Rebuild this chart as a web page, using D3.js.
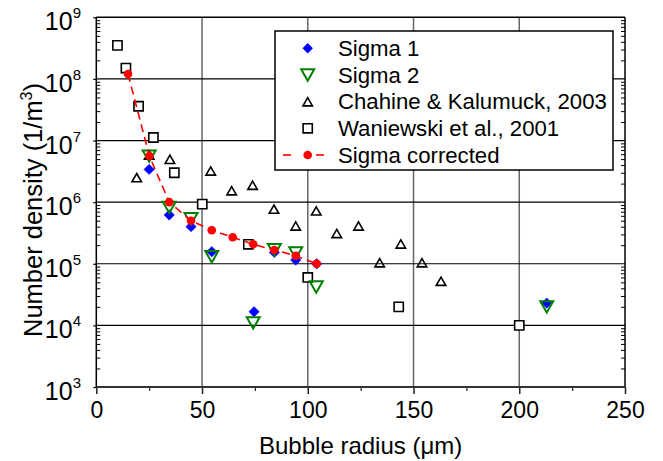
<!DOCTYPE html>
<head>
    <meta charset="utf-8">
    <script src="https://cdn.jsdelivr.net/npm/d3@7"></script>
    <style type="text/css">
        body { margin: 0; background: #fff; }
        svg { display: block; font-family: "Liberation Sans", Arial, sans-serif; }
        .domain { display: none; }
    </style>
</head>
<body>
    <div id="chart"></div>
</body>
</html>

<script type="text/javascript">
	// values
	var sigma1X = [25, 34.5, 44.8, 54.6, 74.6, 84.2, 94.3, 104.2, 213];
	var sigma1Y = [3.4e6, 6.2e5, 4.0e5, 1.57e5, 1.66e4, 1.53e5, 1.15e5, 1.0e5, 2.3e4];

	var sigma2X = [25, 34.5, 44.8, 54.6, 74.2, 84.2, 94.3, 104, 213];
	var sigma2Y = [5.6e6, 8.2e5, 5.4e5, 1.3e5, 1.1e4, 1.7e5, 1.5e5, 4.2e4, 2.0e4];

	var chahineX = [19.1, 25, 34.8, 54.1, 64, 73.9, 84, 94.3, 104, 113.7, 124, 134, 144, 154, 163];
	var chahineY = [2.5e6, 5.8e6, 4.95e6, 3.2e6, 1.53e6, 1.88e6, 7.7e5, 4.1e5, 7.2e5, 3.1e5, 4.1e5, 1.04e5, 2.09e5, 1.04e5, 5.2e4];

	var waniX = [10, 14, 20, 27, 36.9, 50.1, 71.9, 100, 143, 200];
	var waniY = [3.5e8, 1.5e8, 3.6e7, 1.12e7, 3.0e6, 9.3e5, 2.07e5, 6.0e4, 2.0e4, 1.0e4];

	var corrX = [15, 25.1, 34.5, 44.8, 54.6, 64.5, 74.2, 84.2, 94.3, 104.2];
	var corrY = [1.2e8, 5.6e6, 1.0e6, 5.0e5, 3.5e5, 2.7e5, 2.07e5, 1.67e5, 1.35e5, 1.0e5];

	var xTicks = [0, 50, 100, 150, 200, 250];
	var xMinor = [25, 75, 125, 175, 225];
	var yExp = [3, 4, 5, 6, 7, 8, 9];

	var legendNames = ["Sigma 1", "Sigma 2", "Chahine & Kalumuck, 2003", "Waniewski et al., 2001", "Sigma corrected"];

	var width = 663, height = 461;
	var pLeft = 96.3, pRight = 625, pTop = 17.3, pBottom = 387;

	var x = d3.scaleLinear().domain([0, 250]).range([pLeft, pRight]);
	var y = d3.scaleLog().domain([1e3, 1e9]).range([pBottom, pTop]);

	var svg = d3.select("#chart").append("svg")
		.attr("width", width)
		.attr("height", height);

	// minor log ticks
	var yMinor = [];
	yExp.slice(0, -1).forEach(function(e) {
		for (var k = 2; k <= 9; k++) yMinor.push(k * Math.pow(10, e));
	});

	// gridlines
	svg.append("g").selectAll("line")
		.data(xTicks.slice(1, -1))
		.enter().append("line")
		.attr("x1", function(d) { return x(d); })
		.attr("x2", function(d) { return x(d); })
		.attr("y1", pTop).attr("y2", pBottom)
		.attr("stroke", "#666").attr("stroke-width", 1.5);

	svg.append("g").selectAll("line")
		.data(yExp.slice(1, -1))
		.enter().append("line")
		.attr("x1", pLeft).attr("x2", pRight)
		.attr("y1", function(d) { return y(Math.pow(10, d)); })
		.attr("y2", function(d) { return y(Math.pow(10, d)); })
		.attr("stroke", "#000").attr("stroke-width", 1.2);

	// x axis
	var xAxis = svg.append("g")
		.attr("transform", "translate(0," + pBottom + ")")
		.call(d3.axisBottom(x).tickValues(xTicks).tickSize(7).tickPadding(8));
	xAxis.selectAll("text").attr("font-size", 23).attr("fill", "#000").attr("font-family", "Liberation Sans, Arial, sans-serif");
	xAxis.selectAll("line").attr("stroke", "#222").attr("stroke-width", 1.5);

	svg.append("g")
		.attr("transform", "translate(0," + pBottom + ")")
		.call(d3.axisBottom(x).tickValues(xMinor).tickSize(4).tickFormat(""))
		.selectAll("line").attr("stroke", "#222").attr("stroke-width", 1.2);

	// y axis: left, major ticks outward, minor ticks inward
	svg.append("g")
		.attr("transform", "translate(" + pLeft + ",0)")
		.call(d3.axisLeft(y).tickValues(yExp.map(function(e) { return Math.pow(10, e); })).tickSize(3).tickFormat(""))
		.selectAll("line").attr("stroke", "#000").attr("stroke-width", 1.2);

	svg.append("g")
		.attr("transform", "translate(" + pLeft + ",0)")
		.call(d3.axisRight(y).tickValues(yMinor).tickSize(4).tickFormat(""))
		.selectAll("line").attr("stroke", "#000").attr("stroke-width", 1);

	svg.append("g")
		.attr("transform", "translate(" + pRight + ",0)")
		.call(d3.axisLeft(y).tickValues(yMinor).tickSize(4).tickFormat(""))
		.selectAll("line").attr("stroke", "#000").attr("stroke-width", 1);

	var yLab = svg.append("g").selectAll("text")
		.data(yExp)
		.enter().append("text")
		.attr("x", 81)
		.attr("y", function(d) { return y(Math.pow(10, d)) + 13; })
		.attr("text-anchor", "end")
		.attr("font-size", 25)
		.text("10");
	yLab.append("tspan")
		.attr("dy", -12)
		.attr("font-size", 15)
		.text(function(d) { return d; });

	// frame
	svg.append("line").attr("x1", pLeft).attr("x2", pRight).attr("y1", pTop).attr("y2", pTop)
		.attr("stroke", "#000").attr("stroke-width", 1.5);
	svg.append("line").attr("x1", pLeft).attr("x2", pLeft).attr("y1", pTop).attr("y2", pBottom)
		.attr("stroke", "#000").attr("stroke-width", 1.5);
	svg.append("line").attr("x1", pRight).attr("x2", pRight).attr("y1", pTop).attr("y2", pBottom)
		.attr("stroke", "#000").attr("stroke-width", 1.5);
	svg.append("line").attr("x1", pLeft).attr("x2", pRight).attr("y1", pBottom).attr("y2", pBottom)
		.attr("stroke", "#333").attr("stroke-width", 2);

	// axis titles
	svg.append("text")
		.attr("x", (pLeft + pRight) / 2)
		.attr("y", 454)
		.attr("text-anchor", "middle")
		.attr("font-size", 24)
		.html("Bubble radius (&#956;m)");

	var yTitle = svg.append("text")
		.attr("transform", "translate(42," + 210 + ") rotate(-90)")
		.attr("text-anchor", "middle")
		.attr("font-size", 25.5)
		.text("Number density (1/m");
	yTitle.append("tspan").attr("dy", -10).attr("font-size", 16).text("3");
	yTitle.append("tspan").attr("dy", 10).text(")");

	// marker shapes
	function square(s) { return "M" + (-s) + "," + (-s) + "h" + 2 * s + "v" + 2 * s + "h" + (-2 * s) + "Z"; }
	function triUp(w) { var h = w * 0.87; return "M0," + (-h / 2) + "L" + (w / 2) + "," + (h / 2) + "L" + (-w / 2) + "," + (h / 2) + "Z"; }
	function triDown(w) { var h = w * 0.87; return "M0," + (h / 2) + "L" + (w / 2) + "," + (-h / 2) + "L" + (-w / 2) + "," + (-h / 2) + "Z"; }
	function diamond(r) { return "M0," + (-r) + "L" + r + ",0L0," + r + "L" + (-r) + ",0Z"; }

	function drawPoints(xs, ys, shape, fill, stroke, sw) {
		svg.append("g").selectAll("path")
			.data(xs)
			.enter().append("path")
			.attr("transform", function(d, i) { return "translate(" + x(d) + "," + y(ys[i]) + ")"; })
			.attr("d", shape)
			.attr("fill", fill)
			.attr("stroke", stroke)
			.attr("stroke-width", sw);
	}

	drawPoints(chahineX, chahineY, triUp(9.5), "none", "#000", 1.6);
	drawPoints(waniX, waniY, square(4.6), "#fff", "#000", 1.6);
	drawPoints(sigma1X, sigma1Y, diamond(5.2), "#0000ff", "#0000ff", 0.5);
	drawPoints(sigma2X, sigma2Y, triDown(13), "none", "#008000", 2);

	var line = d3.line()
		.x(function(d, i) { return x(d); })
		.y(function(d, i) { return y(corrY[i]); });

	svg.append("path")
		.datum(corrX)
		.attr("d", line)
		.attr("fill", "none")
		.attr("stroke", "#ff0000")
		.attr("stroke-width", 1.6)
		.attr("stroke-dasharray", "8,5");

	svg.append("g").selectAll("circle")
		.data(corrX)
		.enter().append("circle")
		.attr("cx", function(d) { return x(d); })
		.attr("cy", function(d, i) { return y(corrY[i]); })
		.attr("r", 4.3)
		.attr("fill", "#ff0000");

	// legend
	var legend = svg.append("g");
	legend.append("rect")
		.attr("x", 275).attr("y", 31)
		.attr("width", 338).attr("height", 139)
		.attr("fill", "#fff")
		.attr("stroke", "#000")
		.attr("stroke-width", 1.5);

	var rowY = [48.3, 75, 101.7, 128.3, 155];
	var sx = 307.7;
	legend.append("path").attr("transform", "translate(" + sx + "," + rowY[0] + ")")
		.attr("d", diamond(5.2)).attr("fill", "#0000ff");
	legend.append("path").attr("transform", "translate(" + sx + "," + rowY[1] + ")")
		.attr("d", triDown(13)).attr("fill", "none").attr("stroke", "#008000").attr("stroke-width", 2);
	legend.append("path").attr("transform", "translate(" + sx + "," + rowY[2] + ")")
		.attr("d", triUp(9.5)).attr("fill", "none").attr("stroke", "#000").attr("stroke-width", 1.6);
	legend.append("path").attr("transform", "translate(" + sx + "," + rowY[3] + ")")
		.attr("d", square(4.6)).attr("fill", "#fff").attr("stroke", "#000").attr("stroke-width", 1.6);
	legend.append("line")
		.attr("x1", 283).attr("x2", 291).attr("y1", rowY[4]).attr("y2", rowY[4])
		.attr("stroke", "#ff0000").attr("stroke-width", 1.6);
	legend.append("line")
		.attr("x1", 316).attr("x2", 324).attr("y1", rowY[4]).attr("y2", rowY[4])
		.attr("stroke", "#ff0000").attr("stroke-width", 1.6);
	legend.append("circle").attr("cx", sx).attr("cy", rowY[4]).attr("r", 4.3).attr("fill", "#ff0000");

	legend.selectAll("text")
		.data(legendNames)
		.enter().append("text")
		.attr("x", 338)
		.attr("y", function(d, i) { return rowY[i] + 7.5; })
		.attr("font-size", 22.2)
		.text(function(d) { return d; });
</script>
